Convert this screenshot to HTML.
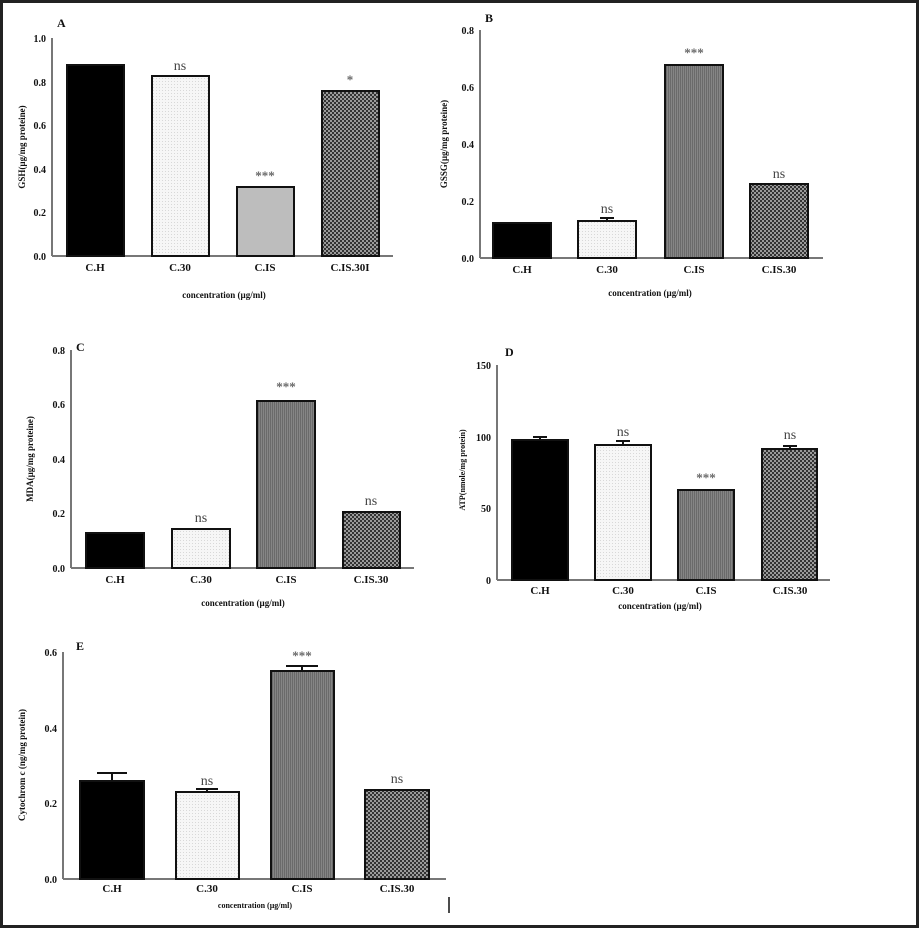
<!DOCTYPE html><html><head><style>body{margin:0;background:#fff}svg{display:block}text{font-family:"Liberation Serif",serif;font-weight:bold;fill:#111}text.n{font-weight:normal;fill:#444}text.s{fill:#666}</style></head><body>
<svg width="919" height="928" viewBox="0 0 919 928" xmlns="http://www.w3.org/2000/svg">
<defs>
<pattern id="dot" width="3" height="3" patternUnits="userSpaceOnUse"><rect width="3" height="3" fill="#f6f6f6"/><rect width="1" height="1" fill="#d8d8d8"/></pattern>
<pattern id="vl" width="2" height="2" patternUnits="userSpaceOnUse"><rect width="2" height="2" fill="#858585"/><rect width="1" height="2" fill="#6a6a6a"/></pattern>
<pattern id="chk" width="4" height="4" patternUnits="userSpaceOnUse"><rect width="4" height="4" fill="#9a9a9a"/><rect width="2" height="2" fill="#333"/><rect x="2" y="2" width="2" height="2" fill="#333"/></pattern>
</defs>
<rect x="1.5" y="1.5" width="916" height="925" fill="none" stroke="#222" stroke-width="3"/>
<g stroke="#111" stroke-width="2" font-size="11">
<line x1="52" y1="38" x2="52" y2="256" stroke="#777"/><line x1="52" y1="256" x2="393" y2="256" stroke="#777"/>
<rect x="67" y="65" width="57" height="191" fill="#000"/>
<rect x="152" y="76" width="57" height="180" fill="url(#dot)"/>
<rect x="237" y="187" width="57" height="69" fill="#bdbdbd"/>
<rect x="322" y="91" width="57" height="165" fill="url(#chk)"/>
</g>
<g font-size="10" text-anchor="end">
<text x="46" y="42">1.0</text><text x="46" y="86">0.8</text><text x="46" y="129">0.6</text><text x="46" y="173">0.4</text><text x="46" y="216">0.2</text><text x="46" y="260">0.0</text>
</g>
<g font-size="11" text-anchor="middle">
<text x="95" y="271">C.H</text><text x="180" y="271">C.30</text><text x="265" y="271">C.IS</text><text x="350" y="271">C.IS.30I</text>
<text x="224" y="298" font-size="9">concentration (µg/ml)</text>
<text class="n" x="180" y="70" font-size="14">ns</text><text class="s" x="265" y="180" font-size="13">***</text><text class="s" x="350" y="84" font-size="13">*</text>
</g>
<text x="57" y="27" font-size="12">A</text>
<text transform="translate(25,147) rotate(-90)" font-size="9" text-anchor="middle">GSH(µg/mg proteine)</text>

<g stroke="#111" stroke-width="2">
<line x1="480" y1="30" x2="480" y2="258" stroke="#777"/><line x1="480" y1="258" x2="823" y2="258" stroke="#777"/>
<rect x="493" y="223" width="58" height="35" fill="#000"/>
<rect x="578" y="221" width="58" height="37" fill="url(#dot)"/>
<rect x="665" y="65" width="58" height="193" fill="url(#vl)"/>
<rect x="750" y="184" width="58" height="74" fill="url(#chk)"/>
<line x1="607" y1="221" x2="607" y2="218"/><line x1="600" y1="218" x2="614" y2="218"/>
</g>
<g font-size="10" text-anchor="end">
<text x="474" y="34">0.8</text><text x="474" y="91">0.6</text><text x="474" y="148">0.4</text><text x="474" y="205">0.2</text><text x="474" y="262">0.0</text>
</g>
<g font-size="11" text-anchor="middle">
<text x="522" y="273">C.H</text><text x="607" y="273">C.30</text><text x="694" y="273">C.IS</text><text x="779" y="273">C.IS.30</text>
<text x="650" y="296" font-size="9">concentration (µg/ml)</text>
<text class="n" x="607" y="213" font-size="14">ns</text><text class="s" x="694" y="57" font-size="13">***</text><text class="n" x="779" y="178" font-size="14">ns</text>
</g>
<text x="485" y="22" font-size="12">B</text>
<text transform="translate(447,144) rotate(-90)" font-size="9" text-anchor="middle">GSSG(µg/mg proteine)</text>

<g stroke="#111" stroke-width="2">
<line x1="71" y1="350" x2="71" y2="568" stroke="#777"/><line x1="71" y1="568" x2="414" y2="568" stroke="#777"/>
<rect x="86" y="533" width="58" height="35" fill="#000"/>
<rect x="172" y="529" width="58" height="39" fill="url(#dot)"/>
<rect x="257" y="401" width="58" height="167" fill="url(#vl)"/>
<rect x="343" y="512" width="57" height="56" fill="url(#chk)"/>
</g>
<g font-size="10" text-anchor="end">
<text x="65" y="354">0.8</text><text x="65" y="408">0.6</text><text x="65" y="463">0.4</text><text x="65" y="517">0.2</text><text x="65" y="572">0.0</text>
</g>
<g font-size="11" text-anchor="middle">
<text x="115" y="583">C.H</text><text x="201" y="583">C.30</text><text x="286" y="583">C.IS</text><text x="371" y="583">C.IS.30</text>
<text x="243" y="606" font-size="9">concentration (µg/ml)</text>
<text class="n" x="201" y="522" font-size="14">ns</text><text class="s" x="286" y="391" font-size="13">***</text><text class="n" x="371" y="505" font-size="14">ns</text>
</g>
<text x="76" y="351" font-size="12">C</text>
<text transform="translate(33,459) rotate(-90)" font-size="9" text-anchor="middle">MDA(µg/mg proteine)</text>

<g stroke="#111" stroke-width="2">
<line x1="497" y1="365" x2="497" y2="580" stroke="#777"/><line x1="497" y1="580" x2="830" y2="580" stroke="#777"/>
<rect x="512" y="440" width="56" height="140" fill="#000"/>
<rect x="595" y="445" width="56" height="135" fill="url(#dot)"/>
<rect x="678" y="490" width="56" height="90" fill="url(#vl)"/>
<rect x="762" y="449" width="55" height="131" fill="url(#chk)"/>
<line x1="540" y1="440" x2="540" y2="437"/><line x1="533" y1="437" x2="547" y2="437"/>
<line x1="623" y1="445" x2="623" y2="441"/><line x1="616" y1="441" x2="630" y2="441"/>
<line x1="790" y1="449" x2="790" y2="446"/><line x1="783" y1="446" x2="797" y2="446"/>
</g>
<g font-size="10" text-anchor="end">
<text x="491" y="369">150</text><text x="491" y="441">100</text><text x="491" y="512">50</text><text x="491" y="584">0</text>
</g>
<g font-size="11" text-anchor="middle">
<text x="540" y="594">C.H</text><text x="623" y="594">C.30</text><text x="706" y="594">C.IS</text><text x="790" y="594">C.IS.30</text>
<text x="660" y="609" font-size="9">concentration (µg/ml)</text>
<text class="n" x="623" y="436" font-size="14">ns</text><text class="s" x="706" y="482" font-size="13">***</text><text class="n" x="790" y="439" font-size="14">ns</text>
</g>
<text x="505" y="356" font-size="12">D</text>
<text transform="translate(465,470) rotate(-90)" font-size="8" text-anchor="middle">ATP(nmole/mg protein)</text>

<g stroke="#111" stroke-width="2">
<line x1="63" y1="652" x2="63" y2="879" stroke="#777"/><line x1="63" y1="879" x2="446" y2="879" stroke="#777"/>
<rect x="80" y="781" width="64" height="98" fill="#000"/>
<rect x="176" y="792" width="63" height="87" fill="url(#dot)"/>
<rect x="271" y="671" width="63" height="208" fill="url(#vl)"/>
<rect x="365" y="790" width="64" height="89" fill="url(#chk)"/>
<line x1="112" y1="781" x2="112" y2="773"/><line x1="97" y1="773" x2="127" y2="773"/>
<line x1="207" y1="792" x2="207" y2="789"/><line x1="196" y1="789" x2="218" y2="789"/>
<line x1="302" y1="671" x2="302" y2="666"/><line x1="286" y1="666" x2="318" y2="666"/>
</g>
<g font-size="10" text-anchor="end">
<text x="57" y="656">0.6</text><text x="57" y="732">0.4</text><text x="57" y="807">0.2</text><text x="57" y="883">0.0</text>
</g>
<g font-size="11" text-anchor="middle">
<text x="112" y="892">C.H</text><text x="207" y="892">C.30</text><text x="302" y="892">C.IS</text><text x="397" y="892">C.IS.30</text>
<text x="255" y="908" font-size="8">concentration (µg/ml)</text>
<text class="n" x="207" y="785" font-size="14">ns</text><text class="s" x="302" y="660" font-size="13">***</text><text class="n" x="397" y="783" font-size="14">ns</text>
</g>
<text x="76" y="650" font-size="12">E</text>
<text transform="translate(25,765) rotate(-90)" font-size="9" text-anchor="middle">Cytochrom c (ng/mg protein)</text>
<line x1="449" y1="897" x2="449" y2="913" stroke="#111" stroke-width="1.5"/>
</svg>
</body></html>
